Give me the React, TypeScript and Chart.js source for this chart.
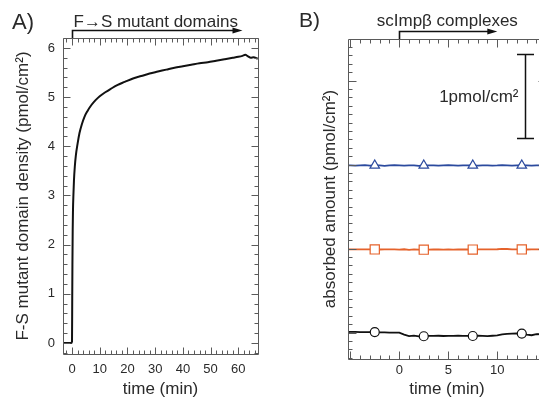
import React, { useEffect, useRef } from 'react';
import { Chart, registerables } from 'chart.js';

Chart.register(...registerables);

const FONT = '"Liberation Sans", Arial, Helvetica, sans-serif';
const TEXT = '#2a2a2a';
const AXIS = '#5a5a5a';

// ---------- Panel A data ----------
const timeA = [
  -3.2, -2, -1, -0.3, 0, 0.08, 0.15, 0.25, 0.35, 0.5,
  0.7, 1, 1.4, 2, 2.7, 3.5, 4.5, 5.5, 7, 8.5,
  10, 12, 14, 16.5, 19, 22, 25, 28, 31, 34,
  37, 40, 43, 46, 49, 52, 55, 58, 60, 61.5,
  62.5, 63.5, 64.5, 65.5, 67,
];
const densityA = [
  0.0, 0.0, 0.0, 0.0, 0.03, 0.9, 1.6, 2.3, 2.7, 3.0,
  3.3, 3.58, 3.82, 4.05, 4.27, 4.44, 4.6, 4.71, 4.84, 4.94,
  5.02, 5.1, 5.17, 5.25, 5.31, 5.38, 5.43, 5.48, 5.52, 5.56,
  5.6, 5.63, 5.66, 5.69, 5.71, 5.74, 5.77, 5.8, 5.82, 5.84,
  5.86, 5.83, 5.8, 5.81, 5.78,
];
const xTicksA = [0, 10, 20, 30, 40, 50, 60];
const yTicksA = [0, 1, 2, 3, 4, 5, 6];

// ---------- Panel B data ----------
const timeB = [
  -5.5, -5, -4.5, -4, -3.5, -3, -2.5, -2, -1.5, -1,
  -0.5, 0, 0.5, 1, 1.5, 2, 2.5, 3, 3.5, 4,
  4.5, 5, 5.5, 6, 6.5, 7, 7.5, 8, 8.5, 9,
  9.5, 10, 10.5, 11, 11.5, 12, 12.5, 13, 13.5, 14,
  14.5, 15, 15.5,
];
const blueB = [
  2.99, 2.992, 2.988, 2.99, 2.993, 2.987, 2.99, 2.991, 2.986, 2.99,
  2.993, 2.99, 2.988, 2.991, 2.99, 2.986, 2.99, 2.992, 2.99, 2.988,
  2.99, 2.993, 2.99, 2.987, 2.99, 2.991, 2.99, 2.988, 2.992, 2.99,
  2.989, 2.99, 2.993, 2.99, 2.987, 2.99, 2.99, 2.992, 2.988, 2.99,
  2.991, 2.99, 2.99,
];
const orangeB = [
  1.99, 1.99, 1.99, 1.991, 1.99, 1.99, 1.99, 1.989, 1.99, 1.99,
  1.99, 1.988, 1.992, 1.985, 1.99, 1.988, 1.987, 1.988, 1.99, 1.989,
  1.988, 1.99, 1.988, 1.99, 1.989, 1.99, 1.988, 1.99, 1.991, 1.99,
  1.99, 1.992, 1.997, 1.995, 1.99, 1.99, 1.99, 1.989, 1.99, 1.99,
  1.99, 1.99, 1.99,
];
const blackB = [
  1.006, 1.007, 1.008, 1.006, 1.005, 1.006, 1.006, 1.003, 1.002, 1.0,
  1.0, 0.998, 0.975, 0.958, 0.964, 0.955, 0.956, 0.961, 0.96, 0.962,
  0.959, 0.961, 0.96, 0.962, 0.96, 0.961, 0.959, 0.962, 0.96, 0.958,
  0.962, 0.966, 0.978, 0.984, 0.988, 0.99, 0.988, 0.975, 0.968, 0.98,
  0.983, 0.98, 0.98,
];
const markerTimesB = [-2.5, 2.5, 7.5, 12.5];
const xTicksB = [0, 5, 10];
const yTicksB = [1, 2, 3, 4];

type Axis = { minor: number; major: number };

function makeFramePlugin(xAx: Axis, yAx: Axis, majorLen: number, minorLen: number) {
  return {
    id: 'frameTicks',
    afterDatasetsDraw(chart: any) {
      const { ctx, chartArea: a } = chart;
      const xs = chart.scales.x;
      const ys = chart.scales.y;
      const L = Math.round(a.left) + 0.5;
      const R = Math.round(a.right) + 0.5;
      const T = Math.round(a.top) + 0.5;
      const B = Math.round(a.bottom) + 0.5;
      ctx.save();
      ctx.strokeStyle = AXIS;
      ctx.lineWidth = 1;
      ctx.beginPath();
      ctx.rect(L, T, R - L, B - T);
      const each = (min: number, max: number, ax: Axis, fn: (v: number, maj: boolean) => void) => {
        const k0 = Math.ceil(min / ax.minor - 1e-6);
        const k1 = Math.floor(max / ax.minor + 1e-6);
        for (let k = k0; k <= k1; k++) {
          const v = k * ax.minor;
          const r = v / ax.major;
          fn(v, Math.abs(r - Math.round(r)) < 1e-6);
        }
      };
      each(xs.min, xs.max, xAx, (v, maj) => {
        const px = Math.round(xs.getPixelForValue(v)) + 0.5;
        const len = maj ? majorLen : minorLen;
        ctx.moveTo(px, B);
        ctx.lineTo(px, B - len);
        ctx.moveTo(px, T);
        ctx.lineTo(px, T + len);
      });
      each(ys.min, ys.max, yAx, (v, maj) => {
        const py = Math.round(ys.getPixelForValue(v)) + 0.5;
        const len = maj ? majorLen : minorLen;
        ctx.moveTo(L, py);
        ctx.lineTo(L + len, py);
        ctx.moveTo(R, py);
        ctx.lineTo(R - len, py);
      });
      ctx.stroke();
      ctx.restore();
    },
  };
}

function drawArrow(ctx: CanvasRenderingContext2D, x0: number, x1: number, yTop: number, yArr: number) {
  ctx.save();
  ctx.strokeStyle = '#111';
  ctx.fillStyle = '#111';
  ctx.lineWidth = 1.6;
  ctx.beginPath();
  ctx.moveTo(x0, yTop);
  ctx.lineTo(x0, yArr);
  ctx.lineTo(x1 - 6, yArr);
  ctx.stroke();
  ctx.beginPath();
  ctx.moveTo(x1, yArr);
  ctx.lineTo(x1 - 10, yArr - 3);
  ctx.lineTo(x1 - 10, yArr + 3);
  ctx.closePath();
  ctx.fill();
  ctx.restore();
}

const annotA = {
  id: 'annotA',
  afterDraw(chart: any) {
    const { ctx, chartArea: a } = chart;
    const xs = chart.scales.x;
    ctx.save();
    ctx.fillStyle = TEXT;
    ctx.textBaseline = 'alphabetic';
    ctx.textAlign = 'left';
    ctx.font = `22px ${FONT}`;
    ctx.fillText('A)', 12, 29);
    ctx.font = `17px ${FONT}`;
    const x0 = Math.round(xs.getPixelForValue(0)) + 0.5;
    ctx.fillText('F\u2192S mutant domains', x0 + 1, 27);
    ctx.restore();
    drawArrow(ctx, x0, xs.getPixelForValue(61.5), a.top, Math.round(a.top) - 8 + 0.5);
  },
};

const annotB = {
  id: 'annotB',
  afterDraw(chart: any) {
    const { ctx, chartArea: a } = chart;
    const xs = chart.scales.x;
    const ys = chart.scales.y;
    ctx.save();
    ctx.fillStyle = TEXT;
    ctx.textBaseline = 'alphabetic';
    ctx.textAlign = 'left';
    ctx.font = `21px ${FONT}`;
    ctx.fillText('B)', 29, 27);
    ctx.font = `17px ${FONT}`;
    ctx.textAlign = 'center';
    ctx.fillText('scImp\u03b2 complexes', xs.getPixelForValue(4.9), 26);
    ctx.restore();
    const x0 = Math.round(xs.getPixelForValue(0)) + 0.5;
    drawArrow(ctx, x0, xs.getPixelForValue(10), a.top, Math.round(a.top) - 8 + 0.5);

    // scale bar: 1 pmol/cm2
    const bx = Math.round(xs.getPixelForValue(12.8)) + 0.5;
    const yTopBar = Math.round(ys.getPixelForValue(4.32)) + 0.5;
    const yBotBar = Math.round(ys.getPixelForValue(3.32)) + 0.5;
    ctx.save();
    ctx.strokeStyle = '#111';
    ctx.lineWidth = 1.5;
    ctx.beginPath();
    ctx.moveTo(bx, yTopBar);
    ctx.lineTo(bx, yBotBar);
    ctx.moveTo(bx - 8.5, yTopBar);
    ctx.lineTo(bx + 8.5, yTopBar);
    ctx.moveTo(bx - 8.5, yBotBar);
    ctx.lineTo(bx + 8.5, yBotBar);
    ctx.stroke();
    ctx.fillStyle = TEXT;
    ctx.font = `17px ${FONT}`;
    ctx.textAlign = 'right';
    ctx.textBaseline = 'middle';
    ctx.fillText('1pmol/cm\u00b2', bx - 7, ys.getPixelForValue(3.8));
    ctx.restore();
  },
};

function PanelA() {
  const ref = useRef<HTMLCanvasElement>(null);
  useEffect(() => {
    const chart = new Chart(ref.current as HTMLCanvasElement, {
      type: 'line',
      data: {
        datasets: [
          {
            data: timeA.map((t, i) => ({ x: t, y: densityA[i] })),
            borderColor: '#111',
            borderWidth: 2,
            pointRadius: 0,
            cubicInterpolationMode: 'monotone',
            fill: false,
          },
        ],
      },
      options: {
        animation: false,
        responsive: false,
        devicePixelRatio: 1,
        layout: { padding: { top: 38, right: 12, left: 0, bottom: 0 } },
        plugins: { legend: { display: false }, tooltip: { enabled: false } },
        scales: {
          x: {
            type: 'linear',
            min: -3.25,
            max: 67.1,
            grid: { display: false, drawTicks: false },
            border: { display: false },
            afterBuildTicks: (s: any) => {
              s.ticks = xTicksA.map((v) => ({ value: v }));
            },
            afterFit: (s: any) => {
              s.height = 46;
            },
            ticks: {
              font: { family: FONT, size: 13 },
              color: TEXT,
              padding: 8,
              maxRotation: 0,
              autoSkip: false,
            },
            title: {
              display: true,
              text: 'time (min)',
              font: { family: FONT, size: 17 },
              color: TEXT,
              padding: { top: 0, bottom: 0 },
            },
          },
          y: {
            type: 'linear',
            min: -0.224,
            max: 6.203,
            grid: { display: false, drawTicks: false },
            border: { display: false },
            afterBuildTicks: (s: any) => {
              s.ticks = yTicksA.map((v) => ({ value: v }));
            },
            afterFit: (s: any) => {
              s.width = 63;
            },
            ticks: {
              font: { family: FONT, size: 13 },
              color: TEXT,
              padding: 8,
              autoSkip: false,
            },
            title: {
              display: true,
              text: 'F-S mutant domain density (pmol/cm\u00b2)',
              font: { family: FONT, size: 17 },
              color: TEXT,
              padding: { top: 13, bottom: 0 },
            },
          },
        },
      } as any,
      plugins: [makeFramePlugin({ minor: 2, major: 10 }, { minor: 0.2, major: 1 }, 7, 4), annotA],
    });
    return () => chart.destroy();
  }, []);
  return (
    <canvas
      ref={ref}
      width={270}
      height={400}
      style={{ position: 'absolute', left: 0, top: 0, width: 270, height: 400 }}
    />
  );
}

function PanelB() {
  const ref = useRef<HTMLCanvasElement>(null);
  useEffect(() => {
    const isMarker = (ctx: any) => markerTimesB.indexOf(timeB[ctx.dataIndex]) >= 0;
    const series = (vals: number[], color: string, style: string, radius: number) => ({
      data: timeB.map((t, i) => ({ x: t, y: vals[i] })),
      borderColor: color,
      borderWidth: 1.8,
      pointStyle: style,
      pointRadius: (ctx: any) => (isMarker(ctx) ? radius : 0),
      pointBackgroundColor: '#ffffff',
      pointBorderColor: color,
      pointBorderWidth: 1.2,
      tension: 0,
      fill: false,
    });
    const chart = new Chart(ref.current as HTMLCanvasElement, {
      type: 'line',
      data: {
        datasets: [
          series(blueB, '#2b4a9e', 'triangle', 5.5),
          series(orangeB, '#e5622b', 'rect', 6.5),
          series(blackB, '#111111', 'circle', 4.5),
        ],
      },
      options: {
        animation: false,
        responsive: false,
        devicePixelRatio: 1,
        layout: { padding: { top: 39, right: 14, left: 0, bottom: 0 } },
        plugins: { legend: { display: false }, tooltip: { enabled: false } },
        scales: {
          x: {
            type: 'linear',
            min: -5.23,
            max: 14.97,
            grid: { display: false, drawTicks: false },
            border: { display: false },
            afterBuildTicks: (s: any) => {
              s.ticks = xTicksB.map((v) => ({ value: v }));
            },
            afterFit: (s: any) => {
              s.height = 41;
            },
            ticks: {
              font: { family: FONT, size: 13 },
              color: TEXT,
              padding: 4,
              maxRotation: 0,
              autoSkip: false,
            },
            title: {
              display: true,
              text: 'time (min)',
              font: { family: FONT, size: 17 },
              color: TEXT,
              padding: { top: 0, bottom: 0 },
            },
          },
          y: {
            type: 'linear',
            min: 0.685,
            max: 4.496,
            grid: { display: false, drawTicks: false },
            border: { display: false },
            afterBuildTicks: (s: any) => {
              s.ticks = yTicksB.map((v) => ({ value: v }));
            },
            afterFit: (s: any) => {
              s.width = 78;
            },
            ticks: { display: false },
            title: {
              display: true,
              text: 'absorbed amount (pmol/cm\u00b2)',
              font: { family: FONT, size: 17 },
              color: TEXT,
              padding: { top: 50, bottom: 0 },
            },
          },
        },
      } as any,
      plugins: [makeFramePlugin({ minor: 1, major: 5 }, { minor: 0.1, major: 1 }, 8, 4), annotB],
    });
    return () => chart.destroy();
  }, []);
  return (
    <canvas
      ref={ref}
      width={290}
      height={400}
      style={{ position: 'absolute', left: 270, top: 0, width: 290, height: 400 }}
    />
  );
}

export default function App() {
  return (
    <div
      style={{
        position: 'absolute',
        left: 0,
        top: 0,
        width: 539,
        height: 400,
        overflow: 'hidden',
        background: '#ffffff',
      }}
    >
      <PanelA />
      <PanelB />
    </div>
  );
}
